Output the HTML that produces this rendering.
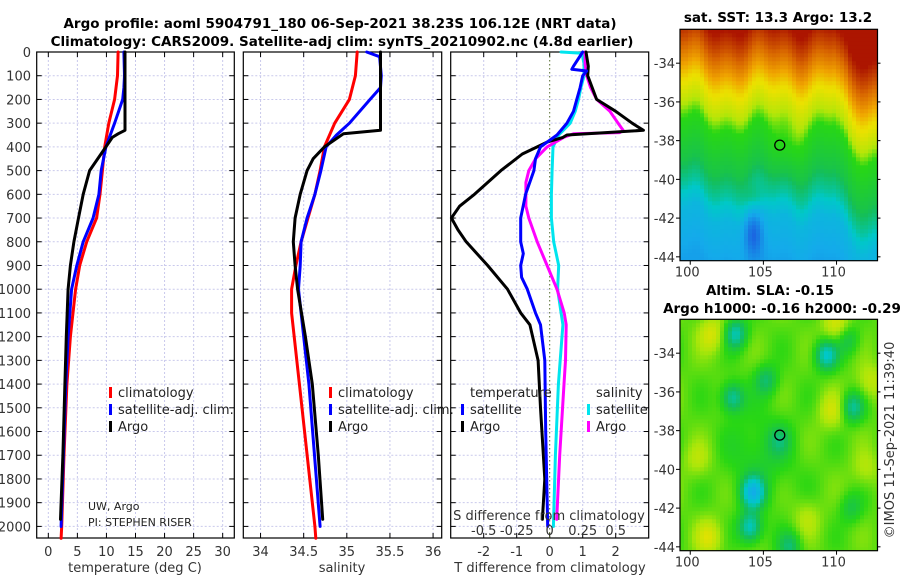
<!DOCTYPE html>
<html><head><meta charset="utf-8">
<style>
html,body{margin:0;padding:0;background:#fff;}
svg{display:block;font-family:"DejaVu Sans","Liberation Sans",sans-serif;}
.tk{font-size:13px;fill:#333;}
.ttl{font-size:13.5px;font-weight:bold;fill:#000;}
.lg{font-size:13px;fill:#222;}
</style></head>
<body>
<svg id="chart" width="900" height="580" viewBox="0 0 900 580" xmlns="http://www.w3.org/2000/svg">
<text class="ttl" x="340" y="28" text-anchor="middle">Argo profile: aoml 5904791_180 06-Sep-2021 38.23S 106.12E (NRT data)</text>
<text class="ttl" x="342" y="46" text-anchor="middle">Climatology: CARS2009. Satellite-adj clim: synTS_20210902.nc (4.8d earlier)</text>
<g id="g"></g>
</svg>
<script>
// ---- data (depth in dbar) ----
const depthTicks=[0,100,200,300,400,500,600,700,800,900,1000,1100,1200,1300,1400,1500,1600,1700,1800,1900,2000];
const tTicks=[0,5,10,15,20,25,30];
const sTicks=[34,34.5,35,35.5,36];
const dTTicks=[-2,-1,0,1,2];
const dSTicks=[-0.5,-0.25,0,0.25,0.5];
const dSTickLabels=["-0.5","-0.25","0","0.25","0.5"];
const latTicks=[-34,-36,-38,-40,-42,-44];
const lonTicks=[100,105,110];

const argoTdepth=[0,330,345,360,400,500,600,700,800,900,1000,1200,1400,1700,1970];
const argoT=[13.2,13.2,12.0,11.0,9.9,7.1,6.0,5.2,4.4,3.8,3.4,3.1,2.85,2.5,2.1];
const climTdepth=[0,100,200,300,400,500,600,700,800,900,1000,1200,1400,1700,2000,2050];
const climT=[12.0,11.9,11.4,10.4,9.7,9.3,8.9,8.3,6.6,5.4,4.7,3.8,3.2,2.7,2.3,2.2];
const satTdepth=[0,100,150,200,300,400,500,600,700,800,900,1000,1200,1400,1700,2000];
const satT=[13.0,13.1,13.0,12.8,11.4,9.9,9.1,8.7,7.7,6.0,4.9,4.0,3.4,3.0,2.6,2.2];

const argoSdepth=[0,330,345,400,450,500,600,700,800,900,1000,1200,1400,1700,1970];
const argoS=[35.39,35.39,34.96,34.74,34.61,34.54,34.46,34.40,34.38,34.40,34.43,34.52,34.60,34.67,34.72];
const climSdepth=[0,100,200,300,400,500,600,700,800,900,1000,1100,1400,2000,2050];
const climS=[35.12,35.10,35.03,34.86,34.74,34.69,34.63,34.55,34.47,34.41,34.36,34.36,34.45,34.63,34.64];
const satSdepth=[0,20,100,150,200,300,350,400,500,600,700,800,900,1000,1400,2000];
const satS=[35.23,35.38,35.40,35.39,35.27,35.03,34.88,34.76,34.70,34.63,34.54,34.47,34.46,34.44,34.56,34.69];

const dTargoDepth=[0,60,100,200,250,300,330,340,350,360,380,400,430,500,600,650,700,750,800,900,1000,1100,1150,1300,1500,1800,1970];
const dTargo=[1.1,1.17,1.15,1.42,2.0,2.5,2.84,1.7,0.52,0.4,-0.08,-0.38,-0.83,-1.48,-2.28,-2.73,-2.98,-2.78,-2.53,-1.88,-1.28,-0.88,-0.6,-0.35,-0.28,-0.15,-0.22];
const dTsatDepth=[0,60,73,80,100,150,200,250,300,350,400,450,500,600,700,800,850,900,950,1000,1100,1150,1300,1600,2000];
const dTsat=[1.0,0.72,0.67,1.12,1.0,0.92,0.82,0.72,0.52,0.22,-0.28,-0.43,-0.48,-0.73,-0.88,-0.88,-0.8,-0.88,-0.85,-0.68,-0.43,-0.28,-0.15,-0.12,-0.06];
const dSsatDepth=[0,5,50,100,150,200,250,300,350,400,500,600,700,800,900,1000,1100,1150,1400,1700,2000];
const dSsat=[0.086,0.245,0.26,0.26,0.236,0.218,0.193,0.155,0.068,0.025,0.018,0.013,0.013,0.03,0.068,0.06,0.086,0.1,0.066,0.043,0.028];
const dSargoDepth=[0,50,100,150,200,250,300,330,340,345,360,400,450,500,550,650,700,800,900,1000,1100,1150,1300,1400,1700,1970];
const dSargo=[0.268,0.268,0.28,0.31,0.356,0.456,0.518,0.556,0.53,0.18,0.105,-0.02,-0.107,-0.158,-0.18,-0.18,-0.158,-0.095,-0.02,0.055,0.11,0.125,0.12,0.108,0.076,0.053];

const argoLon=106.12, argoLat=-38.23;

// ---- helpers ----
const NS="http://www.w3.org/2000/svg";
const G=document.getElementById('g');
function mk(tag,attrs,parent){const e=document.createElementNS(NS,tag);for(const k in attrs)e.setAttribute(k,attrs[k]);(parent||G).appendChild(e);return e;}
const yTop=52,yBot=538;
function yD(d){return yTop+d*0.2372;}
const panels=[
 {x0:36.7,x1:234.3,min:-2,max:32,name:'temperature'},
 {x0:243.3,x1:441.7,min:33.8,max:36.1,name:'salinity'},
 {x0:450.7,x1:648.7,min:-3,max:3,name:'difference'}];
function xs(p,v){return p.x0+(v-p.min)/(p.max-p.min)*(p.x1-p.x0);}
function xS(v){return xs(panels[2],v*4);}

panels.forEach((p,i)=>{
  const gp=mk('g',{});
  
  
  depthTicks.forEach(d=>{
    const l=mk('line',{x1:p.x0,x2:p.x1,y1:yD(d),y2:yD(d),stroke:'#c9c9ec','stroke-width':1,'stroke-dasharray':'2,2'},gp);
    
    
    mk('line',{x1:p.x0,x2:p.x0+5,y1:yD(d),y2:yD(d),stroke:'#000'},gp);
    mk('line',{x1:p.x1-5,x2:p.x1,y1:yD(d),y2:yD(d),stroke:'#000'},gp);
  });
  const ticks=i==0?tTicks:i==1?sTicks:dTTicks;
  ticks.forEach(t=>{
    const x=xs(p,t);
    if(!(i==2&&t==0)){
      const l=mk('line',{x1:x,x2:x,y1:yTop,y2:yBot,stroke:'#c9c9ec','stroke-width':1,'stroke-dasharray':'2,2'},gp);
      
      
    }
    mk('line',{x1:x,x2:x,y1:yBot,y2:yBot-5,stroke:'#000'},gp);
    mk('line',{x1:x,x2:x,y1:yTop,y2:yTop+5,stroke:'#000'},gp);
    const tx=mk('text',{x:x,y:556,'text-anchor':'middle',class:'tk'},gp);
    tx.textContent=String(t);
    
    
  });
  const fr=mk('rect',{x:p.x0,y:yTop,width:p.x1-p.x0,height:yBot-yTop,fill:'none',stroke:'#000','stroke-width':1.2},gp);
  
  
});
depthTicks.forEach(d=>{
  const t=mk('text',{x:31,y:yD(d)+5,'text-anchor':'end',class:'tk'});
  t.textContent=String(d);
  
  
});
[['temperature (deg C)',135,'temperature-axis-title'],['salinity',342,'salinity-axis-title'],['T difference from climatology',550,'t-diff-axis-title']].forEach(a=>{
  const t=mk('text',{x:a[1],y:572,'text-anchor':'middle',class:'tk'});
  t.textContent=a[0];
  
  
});
const z=mk('line',{x1:xs(panels[2],0),x2:xs(panels[2],0),y1:yTop,y2:yBot,stroke:'#556b2f','stroke-width':1,'stroke-dasharray':'1.5,2.5'});



function line(depths,vals,fx,color,name){
  let d='';
  depths.forEach((dp,k)=>{d+=(k?'L':'M')+fx(vals[k]).toFixed(1)+','+yD(dp).toFixed(1);});
  const e=mk('path',{d:d,fill:'none',stroke:color,'stroke-width':3,'stroke-linejoin':'round','stroke-linecap':'round'});
  
  
}
const fT=v=>xs(panels[0],v), fS=v=>xs(panels[1],v), fD=v=>xs(panels[2],v);
line(climTdepth,climT,fT,'#f00','climatology-temperature-line');
line(satTdepth,satT,fT,'#00f','satellite-temperature-line');
line(argoTdepth,argoT,fT,'#000','argo-temperature-line');
line(climSdepth,climS,fS,'#f00','climatology-salinity-line');
line(satSdepth,satS,fS,'#00f','satellite-salinity-line');
line(argoSdepth,argoS,fS,'#000','argo-salinity-line');
line(dSsatDepth,dSsat,xS,'#00e5ee','satellite-salinity-diff-line');
line(dSargoDepth,dSargo,xS,'#f0f','argo-salinity-diff-line');
line(dTargoDepth,dTargo,fD,'#000','argo-temperature-diff-line');
line(dTsatDepth,dTsat,fD,'#00f','satellite-temperature-diff-line');

const sl=mk('text',{x:549,y:520,'text-anchor':'middle',class:'tk'});
sl.textContent='S difference from climatology';


dSTicks.forEach((v,k)=>{
  const t=mk('text',{x:xS(v),y:535,'text-anchor':'middle',class:'tk'});
  t.textContent=dSTickLabels[k];
  
  
});

function legend(x,y,color,label,name){
  const b=mk('rect',{x:x-2,y:y-10,width:3,height:11,fill:color});
  
  
  const t=mk('text',{x:x+7,y:y,class:'lg'});
  t.textContent=label;
  
  
}
legend(111,397,'#f00','climatology','legend-climatology');
legend(111,414,'#00f','satellite-adj. clim.','legend-satellite-adj');
legend(111,431,'#000','Argo','legend-argo');
legend(331,397,'#f00','climatology','legend-climatology-2');
legend(331,414,'#00f','satellite-adj. clim.','legend-satellite-adj-2');
legend(331,431,'#000','Argo','legend-argo-2');
legend(463,414,'#00f','satellite','legend-t-satellite');
legend(463,431,'#000','Argo','legend-t-argo');
legend(589,414,'#00e5ee','satellite','legend-s-satellite');
legend(589,431,'#f0f','Argo','legend-s-argo');
[['temperature',470,'legend-header-temperature'],['salinity',596,'legend-header-salinity']].forEach(a=>{
  const t=mk('text',{x:a[1],y:397,class:'lg'});
  t.textContent=a[0];
  
  
});
[['UW, Argo',510,'pi-institution'],['PI: STEPHEN RISER',526,'pi-name']].forEach(a=>{
  const t=mk('text',{x:88,y:a[1],style:'font-size:11px',fill:'#222'});
  t.textContent=a[0];
  
  
});

// ---- maps ----
const palV=[0.0,0.2,0.33,0.42,0.5,0.58,0.66,0.75,0.86,1.0];
const palC=[[30,70,220],[20,170,235],[0,200,200],[20,190,90],[40,215,20],[170,230,10],[235,225,0],[240,165,0],[215,100,0],[160,0,0]];
function pal(v){v=Math.max(0,Math.min(1,v));
  for(let i=1;i<palV.length;i++){if(v<=palV[i]){const f=(v-palV[i-1])/(palV[i]-palV[i-1]);const a=palC[i-1],b=palC[i];
    return 'rgb('+Math.round(a[0]+(b[0]-a[0])*f)+','+Math.round(a[1]+(b[1]-a[1])*f)+','+Math.round(a[2]+(b[2]-a[2])*f)+')';}}
  return 'rgb(160,0,0)';}
const mapX0=680,mapX1=877.5,lonMin=99.3,lonMax=112.8;
function mx(lon){return mapX0+(lon-lonMin)/(lonMax-lonMin)*(mapX1-mapX0);}
const sstL=[-32.2,-33.3,-34.3,-35.3,-36.5,-37.3,-39.5,-40.8,-42,-44.5];
const sstV=[0.97,0.88,0.78,0.67,0.6,0.5,0.44,0.36,0.25,0.18];
function sstField(lon,lat){
  let l=lat+0.35*Math.sin(lon*1.3)+0.25*Math.sin(lon*3.1+1);
  if(lon>109.8) l+=1.6*Math.min(1,(lon-109.8)/1.2);
  if(lon<101) l-=0.6*(101-lon)/1.7;
  const dx=lon-106.5,dy=lat+38.4; l+=0.9*Math.exp(-(dx*dx+dy*dy)/1.5);
  let v=sstV[sstV.length-1];
  for(let i=1;i<sstL.length;i++){if(l>=sstL[i]){const f=(l-sstL[i-1])/(sstL[i]-sstL[i-1]);v=sstV[i-1]+(sstV[i]-sstV[i-1])*f;break;}}
  if(l>sstL[0])v=0.97;
  const bx=lon-104.3,by=lat+42.8; v-=0.15*Math.exp(-(bx*bx*3+by*by)/1.2);
  const cx=lon-104.5,cy=lat+41; v+=0.07*Math.exp(-(cx*cx+cy*cy)/0.4);
  return v;
}
const blobs=[[103.1,-33,0.18],[109.3,-34.1,0.2],[105.2,-35.4,0.12],[102.9,-36.3,0.17],[111.1,-36.8,0.16],[104.3,-41.2,0.26],[104.1,-43,0.2],[106.8,-44,0.12],[106.1,-38.5,0.08],[111,-42,0.08],[110.8,-33.3,0.1]];
const yel=[[101.5,-33,0.1],[109.7,-37,0.09],[101.3,-43.5,0.1],[110,-32.6,0.1],[112.3,-35.5,0.08],[108,-42.5,0.06],[100.5,-39.5,0.06],[112,-40,0.06]];
function slaField(lon,lat){
  let v=0.53+0.025*Math.sin(lon*1.7)*Math.cos(lat*1.3);
  const cx=lon-104.8,cy=lat+39.3; v-=0.06*Math.exp(-(cx*cx+cy*cy)/5);
  blobs.forEach(b=>{const dx=lon-b[0],dy=lat-b[1];v-=b[2]*Math.exp(-(dx*dx+dy*dy)/0.6);});
  yel.forEach(b=>{const dx=lon-b[0],dy=lat-b[1];v+=b[2]*Math.exp(-(dx*dx+dy*dy)/0.9);});
  return v;
}
function drawMap(y0,y1,field,name){
  const my=lat=>y0+(-32.25-lat)/(-32.25+44.2)*(y1-y0);
  const gm=mk('g',{});
  
  
  const cs=4;
  for(let px=mapX0;px<mapX1;px+=cs){for(let py=y0;py<y1;py+=cs){
    const lon=lonMin+(px+cs/2-mapX0)/(mapX1-mapX0)*(lonMax-lonMin);
    const lat=-32.25-(py+cs/2-y0)/(y1-y0)*(44.2-32.25);
    mk('rect',{x:px,y:py,width:Math.min(cs,mapX1-px)+0.3,height:Math.min(cs,y1-py)+0.3,fill:pal(field(lon,lat))},gm);
  }}
  mk('rect',{x:mapX0,y:y0,width:mapX1-mapX0,height:y1-y0,fill:'none',stroke:'#000','stroke-width':1.2},gm);
  latTicks.forEach(l=>{
    const y=my(l);
    mk('line',{x1:mapX0,x2:mapX0-4,y1:y,y2:y,stroke:'#000'},gm);
    mk('line',{x1:mapX1,x2:mapX1+3,y1:y,y2:y,stroke:'#000'},gm);
    const t=mk('text',{x:675,y:y+5,'text-anchor':'end',class:'tk'},gm);
    t.textContent=String(l);
    
    
  });
  lonTicks.forEach(l=>{
    const x=mx(l);
    mk('line',{x1:x,x2:x,y1:y1,y2:y1+4,stroke:'#000'},gm);
    const t=mk('text',{x:x-3,y:y1+16,'text-anchor':'middle',class:'tk'},gm);
    t.textContent=String(l);
    
    
  });
  const c=mk('circle',{cx:mx(argoLon),cy:my(argoLat),r:5,fill:'none',stroke:'#000','stroke-width':1.3},gm);
  
  
}
drawMap(29.3,260.7,sstField,'sst-map');
drawMap(319.3,550.7,slaField,'sla-map');
[['sat. SST: 13.3 Argo: 13.2',778,22,'sst-map-title'],['Altim. SLA: -0.15',770,295,'sla-map-title'],['Argo h1000: -0.16 h2000: -0.29',782,313,'sla-map-subtitle']].forEach(a=>{
  const t=mk('text',{x:a[1],y:a[2],'text-anchor':'middle',class:'ttl'});
  t.textContent=a[0];
  
  
});
const cp=mk('text',{x:0,y:0,class:'tk',transform:'translate(894,440) rotate(-90)','text-anchor':'middle'});
cp.textContent='©IMOS 11-Sep-2021 11:39:40';


</script>
</body></html>
